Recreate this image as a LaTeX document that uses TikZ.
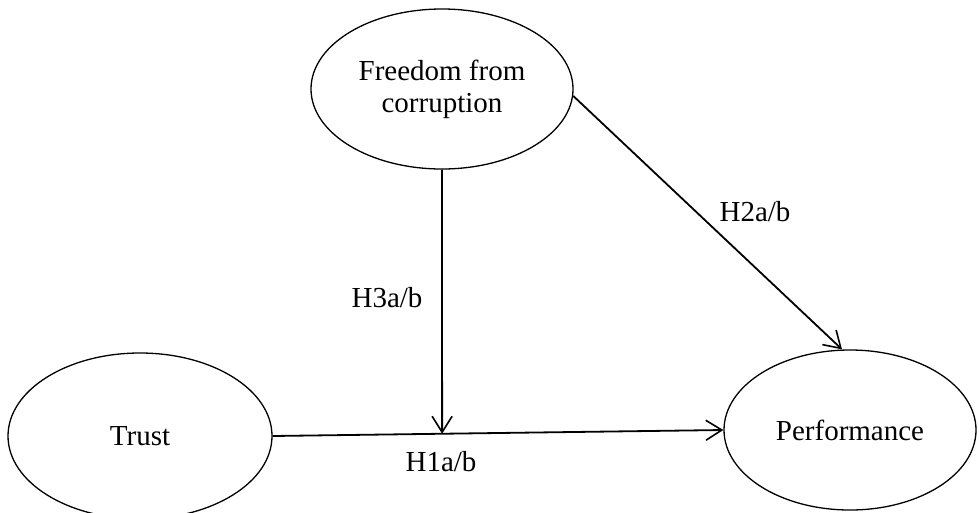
\documentclass[tikz,border=0pt]{standalone}
\usepackage{fontspec}
\setmainfont{Liberation Serif}
\usetikzlibrary{arrows.meta,shapes.geometric,calc}

\begin{document}
\begin{tikzpicture}[->,>={Straight Barb[length=16pt,width=20pt,line width=1.6pt]},x=1pt,y=-1pt,line width=1.8pt]
    \tikzstyle{var}=[draw=black, ellipse, line width=1.3pt, inner sep=0pt, fill=none, text=black, align=center, font=\fontsize{29}{32}\selectfont]
    \tikzstyle{hyp}=[text=black, font=\fontsize{29}{32}\selectfont]
    \useasboundingbox (0,0) rectangle (979,512);

    \node[var, minimum width=262, minimum height=160] (f) at (442,89)  {Freedom from\\corruption};
    \node[var, minimum width=264, minimum height=166] (t) at (140,436) {Trust};
    \node[var, minimum width=252, minimum height=160] (p) at (850,430) {Performance};
    \coordinate (m) at ($(t.east)!0.376!(p.west)$);

    \node[hyp] (h1) at (441,462) {H1a/b};
    \node[hyp] (h2) at (755,212) {H2a/b};
    \node[hyp] (h3) at (387,298) {H3a/b};

    \path
     (t.east) edge (p.west)
     (f.south) edge (m)
     (f.-3) edge ($(p.north)+(-8,0)$)
     ;
\end{tikzpicture}
\end{document}
